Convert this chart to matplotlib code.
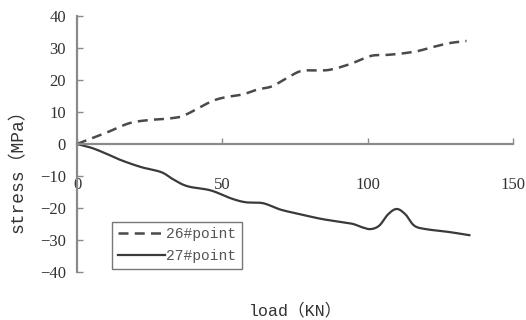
import matplotlib
matplotlib.use('Agg')

import numpy as np
import matplotlib.pyplot as plt

plt.rcParams['font.family'] = ['Liberation Serif', 'Noto Sans CJK SC']

# 26#point (dashed)
load_26 = [0, 10, 18, 25, 32, 37, 46, 51, 57, 62, 67, 72, 77, 82, 87, 94, 101, 106, 111, 117, 122, 128, 134]
stress_26 = [0, 3.5, 6.5, 7.5, 8.0, 9.0, 13.2, 14.6, 15.5, 17.0, 18.0, 20.5, 22.8, 23.0, 23.2, 25.0, 27.5, 27.8, 28.2, 29.0, 30.2, 31.5, 32.2]

# 27#point (solid)
load_27 = [0, 5, 10, 15, 22, 29, 33, 38, 46, 53, 58, 64, 70, 77, 84, 91, 95, 98, 101, 104, 107, 110, 113, 116, 120, 128, 135]
stress_27 = [0, -1.2, -3.0, -5.0, -7.2, -8.8, -11.0, -13.2, -14.5, -17.0, -18.2, -18.5, -20.5, -22.0, -23.4, -24.4, -25.0, -26.0, -26.6, -25.5, -22.0, -20.3, -22.0, -25.5, -26.6, -27.5, -28.5]

xticks = [0, 50, 100, 150]
yticks = [40, 30, 20, 10, 0, -10, -20, -30, -40]
ytick_labels = ['40', '30', '20', '10', '0', '−10', '−20', '−30', '−40']


def smooth(x, y, n=12):
    # Excel 风格的平滑线 (Catmull-Rom)
    x = np.asarray(x, float)
    y = np.asarray(y, float)
    px = np.concatenate([[x[0]], x, [x[-1]]])
    py = np.concatenate([[y[0]], y, [y[-1]]])
    xs, ys = [], []
    t = np.linspace(0, 1, n, endpoint=False)
    for i in range(1, len(px) - 2):
        for p, out in ((px, xs), (py, ys)):
            p0, p1, p2, p3 = p[i - 1], p[i], p[i + 1], p[i + 2]
            out.extend(0.5 * (2 * p1 + (-p0 + p2) * t
                              + (2 * p0 - 5 * p1 + 4 * p2 - p3) * t ** 2
                              + (-p0 + 3 * p1 - 3 * p2 + p3) * t ** 3))
    xs.append(x[-1])
    ys.append(y[-1])
    return xs, ys


fig = plt.figure(figsize=(5.26, 3.2), dpi=100)
ax = fig.add_axes([77 / 526, 48 / 320, 436 / 526, 256 / 320])

ax.plot(*smooth(load_26, stress_26), linestyle=(0, (4, 2.5)), color='#4a4a4a', lw=1.8, label='26#point')
ax.plot(*smooth(load_27, stress_27), linestyle='-', color='#3a3a3a', lw=1.6, label='27#point')

ax.set_xlim(0, 150)
ax.set_ylim(-40, 40)
ax.set_xticks(xticks)
ax.set_yticks(yticks)
ax.set_yticklabels(ytick_labels)

for s in ['top', 'right']:
    ax.spines[s].set_visible(False)
ax.spines['bottom'].set_position(('data', 0))
for s in ['left', 'bottom']:
    ax.spines[s].set_color('#8a8a8a')
    ax.spines[s].set_linewidth(1.6)

ax.tick_params(axis='both', direction='in', length=4, color='#8a8a8a', width=1,
               labelsize=12, labelcolor='#333333')
ax.tick_params(axis='x', pad=24)
ax.tick_params(axis='y', pad=8)

ax.set_ylabel('stress（MPa）', family=['Liberation Mono', 'Noto Sans CJK SC'],
              fontsize=13, color='#333333')
ax.yaxis.set_label_coords(-0.115, 0.41)
ax.set_xlabel('load（KN）', family=['Liberation Mono', 'Noto Sans CJK SC'],
              fontsize=12, color='#333333')
ax.xaxis.set_label_coords(0.5, -0.12)

leg = ax.legend(loc='lower left', bbox_to_anchor=(28 / 436, -0.015), frameon=True,
                fancybox=False, edgecolor='#555555', handlelength=3.2,
                handletextpad=0.1, borderpad=0.4, labelspacing=0.5,
                prop={'family': 'Liberation Mono', 'size': 10.5})
leg.get_frame().set_linewidth(1.0)
for t in leg.get_texts():
    t.set_color('#555555')

fig.savefig('out.png', dpi=100)
